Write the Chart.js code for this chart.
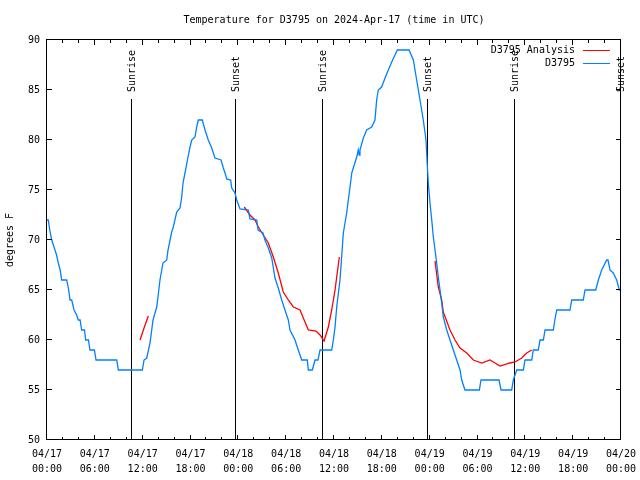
<!DOCTYPE html>
<html>
<head>
<meta charset="utf-8">
<script src="https://cdn.jsdelivr.net/npm/chart.js@4.4.1/dist/chart.umd.min.js"></script>
<style>
  html, body { margin: 0; padding: 0; background: #fff; }
  canvas { display: block; }
</style>
</head>
<body>
<canvas id="temp-chart" width="640" height="480"></canvas>
<script>
// hours since 04/17 00:00 UTC
let stationHours = [
  0.00, 0.16, 0.35, 0.59, 0.80, 1.00, 1.20, 1.42, 1.65, 1.84, 2.47, 2.68, 2.89, 3.10, 3.39, 3.72,
  3.93, 4.15, 4.35, 4.70, 4.85, 5.20, 5.39, 5.95, 6.15, 8.74, 8.95, 11.96, 12.17, 12.51, 12.92, 13.30,
  13.76, 13.92, 14.17, 14.55, 15.02, 15.18, 15.64, 15.81, 16.27, 16.68, 16.90, 17.06, 17.31, 17.69,
  17.94, 18.15, 18.56, 18.78, 18.98, 19.48, 19.82, 20.23, 20.66, 21.07, 21.83, 22.12, 22.33, 22.54,
  23.04, 23.17, 23.58, 23.80, 24.21, 25.25, 25.46, 26.31, 26.47, 27.09, 27.34, 27.76, 28.19, 28.60,
  29.01, 29.44, 29.85, 30.27, 30.48, 31.11, 31.52, 31.95, 32.65, 32.78, 33.28, 33.62, 33.99, 34.25,
  35.71, 35.92, 36.13, 36.34, 36.75, 36.96, 37.17, 37.59, 38.01, 38.23, 38.42, 38.85, 39.05, 39.15,
  39.26, 39.68, 40.10, 40.73, 41.14, 41.35, 41.56, 41.98, 42.40, 42.81, 43.24, 43.65, 43.94, 45.41,
  45.95, 46.37, 46.79, 47.20, 47.54, 47.70, 47.83, 48.04, 48.26, 48.46, 48.67, 48.88, 49.08, 49.30,
  49.51, 49.71, 50.14, 50.55, 50.97, 51.39, 51.81, 52.02, 52.43, 54.23, 54.44, 56.70, 56.95, 58.29,
  58.49, 58.92, 59.75, 59.96, 60.80, 61.00, 61.63, 61.84, 62.26, 62.47, 63.51, 63.70, 63.94, 65.60,
  65.82, 67.27, 67.49, 68.83, 69.16, 69.58, 70.21, 70.37, 70.62, 71.03, 71.46, 71.79, 71.88
];
let stationTemps = [
  72, 72, 71, 70, 69.5, 69, 68.5, 67.7, 67, 66, 66, 65.2, 64, 64, 63, 62.5,
  62, 62, 61, 61, 60, 60, 59, 59, 58, 58, 57, 57, 58, 58.2, 59.7, 62,
  63.3, 64.3, 66, 67.7, 68, 69, 70.8, 71.2, 72.8, 73.2, 74.3, 75.7, 76.7, 78.3,
  79.3, 80, 80.3, 81.3, 82, 82, 81, 80, 79.2, 78.2, 78, 77.2, 76.7, 76.1,
  76, 75.2, 74.7, 74, 73.1, 73, 72.1, 72, 71, 70.7, 70, 69.2, 68.2, 66.2,
  65.2, 64, 63, 62, 61, 60, 59, 58, 58, 57, 57, 58, 58, 59,
  59, 60, 61.3, 63.3, 66, 68.3, 70.7, 72.7, 75.3, 76.7, 77.2, 78.3, 79, 78.5,
  79, 80.2, 81, 81.3, 82, 84, 85, 85.3, 86.2, 87, 87.8, 88.5, 89, 89,
  88, 86, 84, 82, 80, 77.5, 75.7, 73.7, 72, 70.3, 69, 67.7, 66.3, 65,
  63.7, 62.3, 61, 60, 59, 58, 57, 56, 55, 55, 56, 56, 55, 55,
  56, 57, 57, 58, 58, 59, 59, 60, 60, 61, 61, 62, 63, 63,
  64, 64, 65, 65, 66, 67, 68, 68, 67, 66.7, 66, 65, 65
];

// analysis runs, null breaks the line between runs
let analysisHours = [
  11.67, 12.17, 12.71, 12.72,
  24.75, 25.46, 26.09, 26.51, 27.13, 27.76, 28.39, 29.01, 29.64, 30.27, 30.90, 31.74,
  32.15, 32.78, 33.74, 34.25, 34.75, 35.29, 35.71, 36.13, 36.34, 36.67, 36.68,
  48.67, 49.08, 49.51, 49.71, 50.55, 51.18, 51.81, 52.65, 53.48, 54.53, 55.57, 56.20,
  56.82, 58.08, 58.70, 59.55, 60.17, 60.80
];
let analysisTemps = [
  60.0, 61.2, 62.4, null,
  73.3, 72.5, 72.0, 71.3, 70.5, 69.7, 68.3, 66.7, 64.8, 64.0, 63.3, 63.0,
  62.2, 61.0, 60.9, 60.5, 59.9, 61.3, 63.0, 65.0, 66.3, 68.3, null,
  67.9, 65.3, 64.0, 62.8, 61.0, 60.0, 59.2, 58.7, 58.0, 57.7, 58.0, 57.7,
  57.4, 57.7, 57.8, 58.2, 58.7, 59.0
];

let sunHours = [10.66, 23.72, 34.66, 47.83, 58.75, 72.0];
let sunLabels = ['Sunrise', 'Sunset', 'Sunrise', 'Sunset', 'Sunrise', 'Sunset'];

let tickDates = ['04/17', '04/17', '04/17', '04/17', '04/18', '04/18', '04/18', '04/18', '04/19', '04/19', '04/19', '04/19', '04/20'];
let tickTimes = ['00:00', '06:00', '12:00', '18:00', '00:00', '06:00', '12:00', '18:00', '00:00', '06:00', '12:00', '18:00', '00:00'];

let chartTitle = 'Temperature for D3795 on 2024-Apr-17 (time in UTC)';
let stationName = 'D3795';
let analysisName = 'D3795 Analysis';

const FONT_FAMILY = '"DejaVu Sans Mono", "Liberation Mono", monospace';
const FONT = '10px ' + FONT_FAMILY;
const BLUE = 'rgb(0, 128, 255)';
const RED = 'rgb(255, 0, 0)';

const toPoints = (xs, ys) => xs.map((h, i) => ({ x: h, y: ys[i] }));

// frame, inward ticks, sunrise/sunset markers, legend and title (gnuplot look)
const gnuplotBits = {
  id: 'gnuplotBits',
  beforeDatasetsDraw(chart) {
    const { ctx, chartArea: a, scales: { x } } = chart;
    ctx.save();
    ctx.strokeStyle = '#000';
    ctx.fillStyle = '#000';
    ctx.lineWidth = 1;
    ctx.font = FONT;
    sunHours.forEach((h, i) => {
      let px = Math.round(x.getPixelForValue(h)) - 0.5;
      ctx.beginPath();
      ctx.moveTo(px, a.top + 59);
      ctx.lineTo(px, a.bottom);
      ctx.stroke();
      // label reads bottom to top, ending just above the line
      ctx.save();
      ctx.translate(px + 1, a.top + 52);
      ctx.rotate(-Math.PI / 2);
      ctx.textAlign = 'left';
      ctx.textBaseline = 'middle';
      ctx.fillText(sunLabels[i], 0, 0);
      ctx.restore();
    });
    ctx.restore();
  },
  afterDraw(chart) {
    const { ctx, chartArea: a, scales: { x, y } } = chart;
    ctx.save();
    ctx.strokeStyle = '#000';
    ctx.fillStyle = '#000';
    ctx.lineWidth = 1;
    ctx.strokeRect(a.left - 0.5, a.top - 0.5, a.right - a.left, a.bottom - a.top);

    ctx.beginPath();
    for (let h = 2; h < 72; h += 2) {
      let px = Math.round(x.getPixelForValue(h)) - 0.5;
      let len = h % 6 === 0 ? 5 : 3;
      ctx.moveTo(px, a.bottom);
      ctx.lineTo(px, a.bottom - len);
      ctx.moveTo(px, a.top);
      ctx.lineTo(px, a.top + len);
    }
    for (let t = 55; t < 90; t += 5) {
      let py = Math.round(y.getPixelForValue(t)) - 0.5;
      ctx.moveTo(a.left, py);
      ctx.lineTo(a.left + 5, py);
      ctx.moveTo(a.right, py);
      ctx.lineTo(a.right - 5, py);
    }
    ctx.stroke();

    ctx.font = FONT;
    ctx.textAlign = 'center';
    ctx.textBaseline = 'middle';
    ctx.fillText(chartTitle, (a.left + a.right) / 2, 20);

    // key, top right
    let rows = [[analysisName, RED], [stationName, BLUE]];
    rows.forEach((r, i) => {
      let ry = a.top + 10.5 + i * 13;
      ctx.fillStyle = '#000';
      ctx.textAlign = 'right';
      ctx.fillText(r[0], a.right - 46, ry);
      ctx.strokeStyle = r[1];
      ctx.beginPath();
      ctx.moveTo(a.right - 38, ry);
      ctx.lineTo(a.right - 11, ry);
      ctx.stroke();
    });
    ctx.restore();
  }
};

let renderChart = () => {
  let canvas = document.getElementById('temp-chart');
  new Chart(canvas, {
    type: 'line',
    data: {
      datasets: [
        {
          label: stationName,
          data: toPoints(stationHours, stationTemps),
          borderColor: BLUE,
          borderWidth: 1.3,
          pointRadius: 0,
          tension: 0,
          order: 0,
        },
        {
          label: analysisName,
          data: toPoints(analysisHours, analysisTemps),
          borderColor: RED,
          borderWidth: 1.3,
          pointRadius: 0,
          tension: 0,
          spanGaps: false,
          order: 1,
        },
      ],
    },
    options: {
      responsive: false,
      animation: false,
      devicePixelRatio: 1,
      layout: { padding: { top: 40, right: 19, left: 0, bottom: 0 } },
      plugins: {
        legend: { display: false },
        title: { display: false },
        tooltip: { enabled: false },
      },
      scales: {
        x: {
          type: 'linear',
          min: 0,
          max: 72,
          grid: { display: false, drawTicks: false },
          border: { display: false },
          ticks: {
            stepSize: 6,
            autoSkip: false,
            maxRotation: 0,
            padding: 7,
            color: '#000',
            font: { family: FONT_FAMILY, size: 10, lineHeight: 1.5 },
            callback: (v) => {
              let i = Math.round(v / 6);
              return [tickDates[i], tickTimes[i]];
            },
          },
          afterFit: (s) => {
            s.height = 40;
            s.paddingLeft = 0;
            s.paddingRight = 0;
          },
        },
        y: {
          min: 50,
          max: 90,
          grid: { display: false, drawTicks: false },
          border: { display: false },
          ticks: {
            stepSize: 5,
            padding: 7,
            color: '#000',
            font: { family: FONT_FAMILY, size: 10 },
          },
          title: {
            display: true,
            text: 'degrees F',
            color: '#000',
            font: { family: FONT_FAMILY, size: 10 },
            padding: { top: 4, bottom: 0 },
          },
          afterFit: (s) => {
            s.width = 47;
            s.paddingTop = 0;
            s.paddingBottom = 0;
          },
        },
      },
    },
    plugins: [gnuplotBits],
  });
};

renderChart();
</script>
</body>
</html>
